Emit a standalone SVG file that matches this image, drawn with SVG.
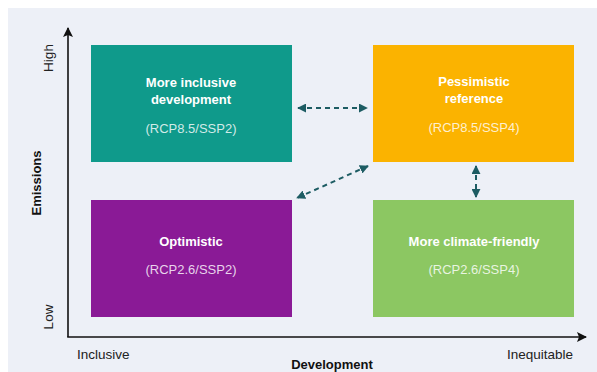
<svg xmlns="http://www.w3.org/2000/svg" width="597" height="372" viewBox="0 0 597 372">
<style>
.t{font-family:"Liberation Sans",Arial,sans-serif;font-size:13px;font-weight:bold;fill:#fff;text-anchor:middle}
.s{font-family:"Liberation Sans",Arial,sans-serif;font-size:13px;fill:#fff;fill-opacity:0.82;text-anchor:middle}
.a{font-family:"Liberation Sans",Arial,sans-serif;font-size:13.5px;fill:#222}
.ab{font-family:"Liberation Sans",Arial,sans-serif;font-size:13px;font-weight:bold;fill:#111}
.d{stroke:#1d5c63;stroke-width:2;stroke-dasharray:5,4;fill:none;marker-start:url(#ds);marker-end:url(#de)}
</style>
<defs>
<marker id="ae" viewBox="0 0 10 10" refX="9" refY="5" markerWidth="10" markerHeight="10" markerUnits="userSpaceOnUse" orient="auto"><path d="M0,0 L10,5 L0,10 L2,5 z" fill="#111"/></marker>
<marker id="de" viewBox="0 0 10 10" refX="9" refY="5" markerWidth="9" markerHeight="9" markerUnits="userSpaceOnUse" orient="auto"><path d="M0,0 L10,5 L0,10 z" fill="#1d5c63"/></marker>
<marker id="ds" viewBox="0 0 10 10" refX="1" refY="5" markerWidth="9" markerHeight="9" markerUnits="userSpaceOnUse" orient="auto"><path d="M10,0 L0,5 L10,10 z" fill="#1d5c63"/></marker>
</defs>
<rect x="0" y="0" width="597" height="372" fill="#fff"/>
<rect x="8" y="8" width="589" height="364" fill="#edf0f7"/>
<g id="axes">
<line x1="68" y1="337" x2="68" y2="28" stroke="#111" stroke-width="1.6" marker-end="url(#ae)"/>
<line x1="67.2" y1="337" x2="586" y2="337" stroke="#111" stroke-width="1.6" marker-end="url(#ae)"/>
<text class="a" transform="translate(53,58) rotate(-90)" text-anchor="middle">High</text>
<text class="a" transform="translate(53,317) rotate(-90)" text-anchor="middle">Low</text>
<text class="ab" transform="translate(41,183) rotate(-90)" text-anchor="middle">Emissions</text>
<text class="a" x="77" y="359">Inclusive</text>
<text class="a" x="573" y="359" text-anchor="end">Inequitable</text>
<text class="ab" x="332" y="369" text-anchor="middle">Development</text>
</g>
<g id="n1">
<rect x="91" y="45" width="201" height="117" fill="#0f9a8b"/>
<text class="t" x="191" y="87">More inclusive</text>
<text class="t" x="191" y="104">development</text>
<text class="s" x="191" y="133">(RCP8.5/SSP2)</text>
</g>
<g id="n2">
<rect x="373" y="45" width="201" height="117" fill="#fbb300"/>
<text class="t" x="474" y="86">Pessimistic</text>
<text class="t" x="474" y="103">reference</text>
<text class="s" x="474" y="132">(RCP8.5/SSP4)</text>
</g>
<g id="n3">
<rect x="91" y="200" width="201" height="117" fill="#8a1a96"/>
<text class="t" x="191" y="246">Optimistic</text>
<text class="s" x="191" y="274">(RCP2.6/SSP2)</text>
</g>
<g id="n4">
<rect x="373" y="200" width="201" height="117" fill="#8cc762"/>
<text class="t" x="474" y="246">More climate-friendly</text>
<text class="s" x="474" y="274">(RCP2.6/SSP4)</text>
</g>
<g id="connectors">
<path class="d" d="M298,108 L367,108"/>
<path class="d" d="M368,166 L297,198"/>
<path class="d" d="M476,166 L476,197" stroke-dasharray="4,5"/>
</g>
</svg>
